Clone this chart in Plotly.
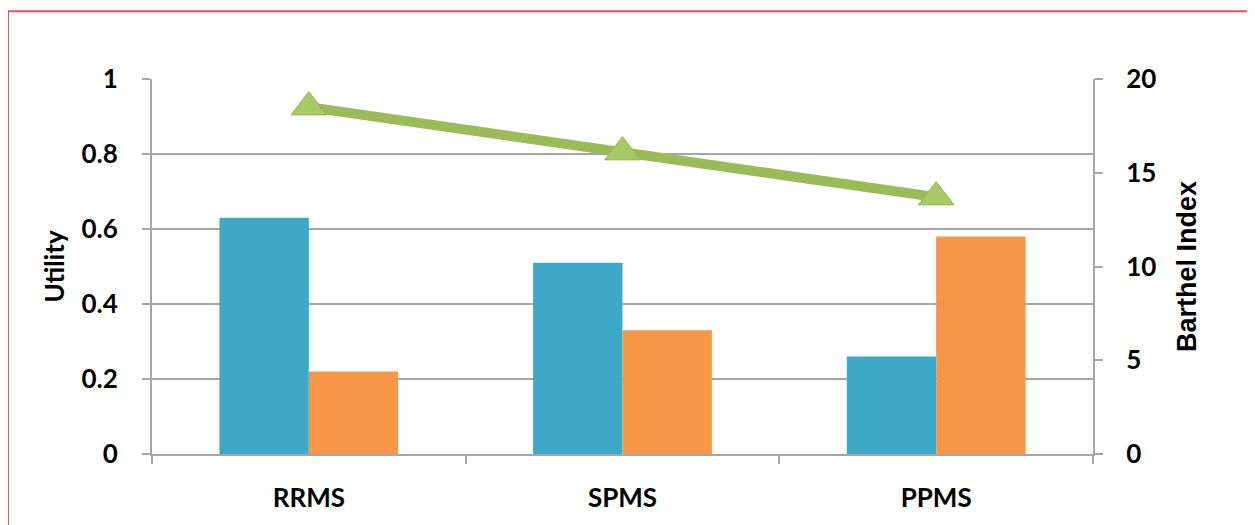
import plotly.graph_objects as go

categories = ["RRMS", "SPMS", "PPMS"]
utility_a = [0.63, 0.51, 0.26]
utility_b = [0.22, 0.33, 0.58]
barthel = [18.5, 16.1, 13.7]

FONT = "Lato"
GRID = "#a6a6a6"

fig = go.Figure()
fig.add_trace(go.Bar(x=categories, y=utility_a, marker=dict(color="#3caac7", line=dict(width=0)), name="A"))
fig.add_trace(go.Bar(x=categories, y=utility_b, marker=dict(color="#f79646", line=dict(width=0)), name="B"))
fig.add_trace(go.Scatter(x=categories, y=barthel, yaxis="y2", mode="lines+markers",
                         line=dict(color="#9bbb59", width=10),
                         marker=dict(symbol="triangle-up", size=31, color="#a8ca66",
                                     line=dict(color="#93b550", width=1)),
                         name="Barthel"))

tickfont = dict(family=FONT, size=26, color="black", weight="bold")

fig.update_layout(
    width=1247, height=517,
    margin=dict(l=144, r=162, t=71, b=71),
    paper_bgcolor="white", plot_bgcolor="white",
    showlegend=False,
    barmode="group", bargap=0.43, bargroupgap=0,
    font=dict(family=FONT, size=22, color="black"),
    xaxis=dict(showline=True, linecolor=GRID, linewidth=2, ticks="outside", tickson="boundaries",
               ticklen=8, tickcolor=GRID, tickwidth=2,
               tickfont=tickfont, ticklabelstandoff=20, showgrid=False),
    yaxis=dict(range=[0, 1], dtick=0.2, showline=True, linecolor=GRID, linewidth=2,
               ticks="outside", ticklen=8, tickcolor=GRID, tickwidth=2,
               showgrid=True, gridcolor=GRID, gridwidth=2, zeroline=False,
               tickfont=tickfont, ticklabelstandoff=19,
               title=dict(text="Utility", font=dict(family=FONT, size=26, color="black", weight="bold"), standoff=9)),
    yaxis2=dict(range=[0, 20], dtick=5, overlaying="y", side="right", showline=True,
                linecolor=GRID, linewidth=2, ticks="outside", ticklen=8, tickcolor=GRID, tickwidth=2,
                showgrid=False, zeroline=False,
                tickfont=tickfont, ticklabelstandoff=18,
                title=dict(text="Barthel Index", font=dict(family="Liberation Sans", size=27, color="black", weight="bold"), standoff=22)),
    shapes=[dict(type="rect", xref="paper", yref="paper",
                 x0=-0.153, x1=1.170, y0=-0.25, y1=1.181,
                 line=dict(color="#e8505b", width=2), fillcolor="rgba(0,0,0,0)", layer="below")],
)

fig.write_html("out.html")
